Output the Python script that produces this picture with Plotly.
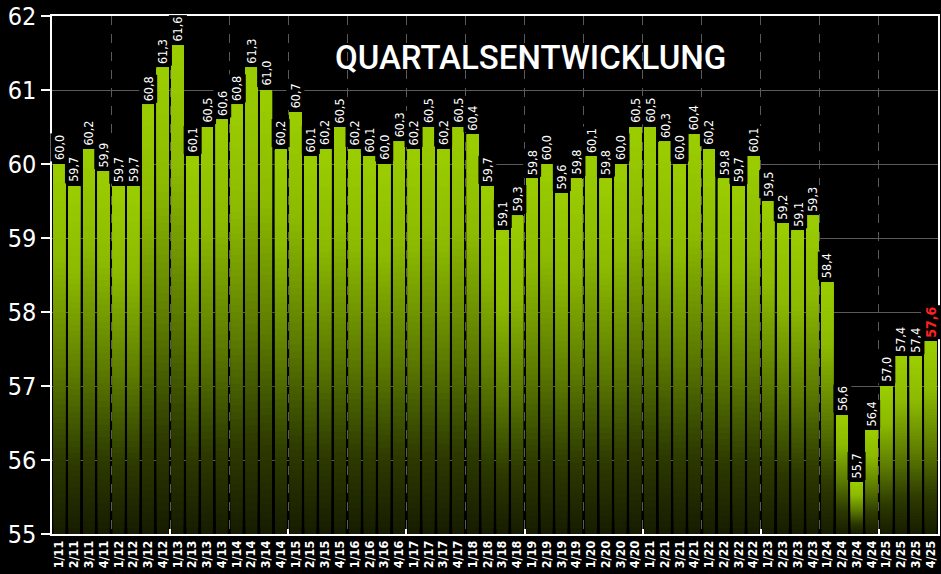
import plotly.graph_objects as go

quarters = ["1", "2", "3", "4"]
years = [str(y) for y in range(11, 26)]
categories = [f"{q}/{y}" for y in years for q in quarters]

values = [
    60.0, 59.7, 60.2, 59.9,
    59.7, 59.7, 60.8, 61.3,
    61.6, 60.1, 60.5, 60.6,
    60.8, 61.3, 61.0, 60.2,
    60.7, 60.1, 60.2, 60.5,
    60.2, 60.1, 60.0, 60.3,
    60.2, 60.5, 60.2, 60.5,
    60.4, 59.7, 59.1, 59.3,
    59.8, 60.0, 59.6, 59.8,
    60.1, 59.8, 60.0, 60.5,
    60.5, 60.3, 60.0, 60.4,
    60.2, 59.8, 59.7, 60.1,
    59.5, 59.2, 59.1, 59.3,
    58.4, 56.6, 55.7, 56.4,
    57.0, 57.4, 57.4, 57.6,
]

y_min, y_max = 55, 62
title_text = "QUARTALSENTWICKLUNG"

# gradient stops (fraction of bar height from bottom, rgb)
stops = [(0.0, (22, 28, 0)), (0.2, (44, 58, 0)), (0.45, (92, 122, 0)),
         (0.75, (140, 186, 0)), (1.0, (155, 206, 0))]


def grad(f):
    for (f0, c0), (f1, c1) in zip(stops[:-1], stops[1:]):
        if f <= f1:
            t = (f - f0) / (f1 - f0) if f1 > f0 else 0
            return "rgb(%d,%d,%d)" % tuple(round(a + (b - a) * t) for a, b in zip(c0, c1))
    return "rgb(%d,%d,%d)" % stops[-1][1]


xs = list(range(len(categories)))
N = 60
fig = go.Figure()
for k in range(N):
    frac = k / N
    bases = [y_min + (v - y_min) * frac for v in values]
    heights = [v - b for v, b in zip(values, bases)]
    fig.add_trace(go.Bar(
        x=xs, y=heights, base=bases, width=0.8,
        marker=dict(color=grad((k + 0.5) / N), line=dict(width=0)),
        hoverinfo="skip", showlegend=False,
    ))

# helper trace for secondary tick axis
fig.add_trace(go.Scatter(x=[xs[0]], y=[y_min], xaxis="x2", mode="markers",
                         marker=dict(opacity=0), hoverinfo="skip", showlegend=False))

annotations = []
for i, v in enumerate(values):
    last = i == len(values) - 1
    annotations.append(dict(
        x=i, y=v, xref="x", yref="y", text=f"{v:.1f}".replace(".", ","),
        showarrow=False, textangle=-90, yanchor="bottom", xanchor="center",
        yshift=2, bgcolor="black", borderpad=1,
        font=dict(family="DejaVu Sans Condensed, Liberation Sans Narrow, sans-serif",
                  size=14 if last else 12.5, color="#ff2020" if last else "white",
                  weight="bold" if last else "normal"),
    ))
annotations.append(dict(
    x=0.54, y=0.92, xref="paper", yref="paper", yanchor="middle",
    text=title_text, showarrow=False,
    font=dict(family="Roboto, sans-serif", size=33, color="white", weight=500),
))

year_bounds = [4 * j - 0.5 for j in range(1, len(years))]
tick_bounds = [8 * j - 0.5 for j in range(1, 8)]

fig.update_layout(
    width=941, height=574,
    paper_bgcolor="black", plot_bgcolor="black",
    margin=dict(l=52, r=3, t=16, b=40, autoexpand=False),
    barmode="overlay", bargap=0.2,
    annotations=annotations,
    xaxis=dict(
        range=[-0.5, len(xs) - 0.5], tickvals=xs, ticktext=categories,
        tickangle=-90, ticks="", showgrid=False, zeroline=False, automargin=False,
        tickfont=dict(family="DejaVu Sans Condensed, Liberation Sans Narrow, sans-serif",
                      size=12.5, color="white", weight="bold"),
        showline=True, linecolor="white", linewidth=1.5, mirror=True,
        minor=dict(tickvals=year_bounds, showgrid=True, gridcolor="#5a5a5a",
                   griddash="dash", gridwidth=1, ticks=""),
    ),
    xaxis2=dict(
        overlaying="x", anchor="y", side="bottom", range=[-0.5, len(xs) - 0.5],
        tickvals=tick_bounds, ticks="inside", ticklen=5, tickcolor="white",
        tickwidth=1.5, showticklabels=False, showgrid=False, zeroline=False,
        automargin=False,
    ),
    yaxis=dict(
        range=[y_min, y_max], dtick=1, ticks="outside", ticklen=9,
        tickcolor="white", tickwidth=1.5, automargin=False,
        tickfont=dict(family="DejaVu Sans Condensed, Roboto, sans-serif",
                      size=25, color="white"),
        showgrid=True, gridcolor="#5a5a5a", gridwidth=1, zeroline=False,
        showline=True, linecolor="white", linewidth=1.5, mirror=True,
    ),
)

fig.write_html(
    "out.html",
    config={"displayModeBar": False},
    post_script="document.body.style.margin='0';document.body.style.background='black';",
)
